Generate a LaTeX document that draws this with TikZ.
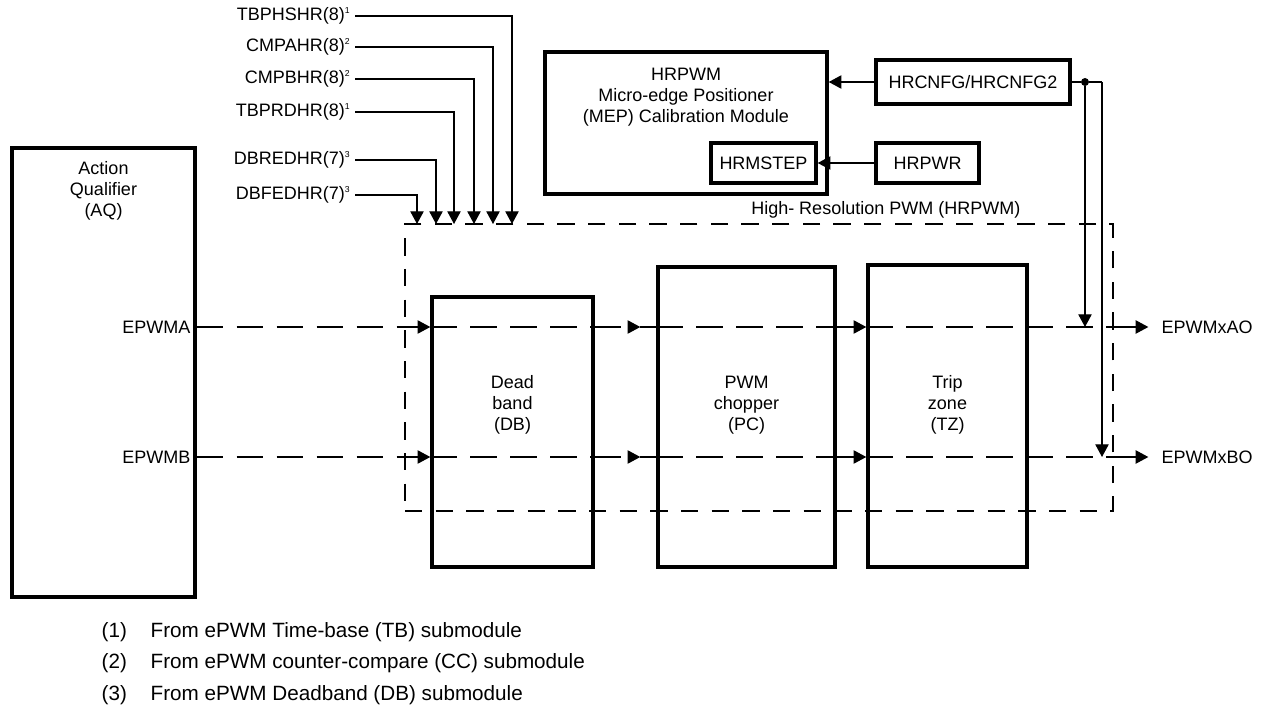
\documentclass[tikz,border=0pt]{standalone}
\usepackage{fontspec}
\setmainfont{Liberation Sans}
\usetikzlibrary{arrows.meta,positioning,calc}

\newcommand{\fnm}[1]{\textsuperscript{\fontsize{6.5}{6.5}\selectfont #1}}

\tikzset{
	ahead/.tip={Triangle[length=9.5pt,width=10pt]},
	blk/.style={draw,line width=2.6pt,inner sep=0pt},
	wire/.style={line width=0.9pt},
	sig/.style={line width=0.9pt,dash pattern=on 20pt off 10pt},
	hrbox/.style={draw,line width=0.9pt,dash pattern=on 13pt off 10pt,inner sep=0pt},
	txt/.style={align=center,font=\fontsize{13.5}{15.75}\selectfont},
	note/.style={anchor=west,font=\fontsize{15.5}{18}\selectfont},
}

\begin{document}
\begin{tikzpicture}[x=0.75pt,y=0.75pt,yscale=-1,xscale=1]
	\useasboundingbox (0,0) rectangle (1265,713);
	
	%Blocks
	\node[blk,minimum width=137.25pt,minimum height=336.75pt] (aq) at (103.5,372.5) {};
	\node[blk,minimum width=120.75pt,minimum height=202.5pt] (db) at (512.5,432) {};
	\node[blk,minimum width=132.75pt,minimum height=225pt] (pc) at (746.5,417) {};
	\node[blk,minimum width=119.25pt,minimum height=226.5pt] (tz) at (947.5,416) {};
	\node[blk,minimum width=211.5pt,minimum height=106.5pt] (mep) at (686,123) {};
	\node[blk,minimum width=78.75pt,minimum height=30pt,txt] (hrm) at (763.5,163) {HRMSTEP};
	\node[blk,minimum width=145.5pt,minimum height=33pt,txt] (cfg) at (973,82) {HRCNFG/HRCNFG2};
	\node[blk,minimum width=77.25pt,minimum height=30pt,txt] (pwr) at (927.5,163) {HRPWR};
	\node[hrbox,minimum width=531pt,minimum height=215.25pt] (hr) at (759,367.5) {};
	
	% Block texts
	\node[txt] (aql) at (103.5,191) {Action\\Qualifier\\(AQ)};
	\node[txt] (dbl) at (512.5,405) {Dead\\band\\(DB)};
	\node[txt] (pcl) at (746.5,405) {PWM\\chopper\\(PC)};
	\node[txt] (tzl) at (947.5,405) {Trip\\zone\\(TZ)};
	\node[txt] (mepl) at (686,97) {HRPWM\\Micro-edge Positioner\\(MEP) Calibration Module};
	\node[txt,anchor=east] (hrl) at (1025,210) {High- Resolution PWM (HRPWM)};
	
	% Signal names
	\node[txt,anchor=east] (epa) at (195,327) {EPWMA};
	\node[txt,anchor=east] (epb) at (195,457) {EPWMB};
	\node[txt,anchor=west] (oa) at (1157,327) {EPWMxAO};
	\node[txt,anchor=west] (ob) at (1157,457) {EPWMxBO};
	
	% Registers into HRPWM
	\foreach \nm/\lb/\yy/\xx in {
		tbphs/{TBPHSHR(8)\fnm{1}}/16/512,
		cmpa/{CMPAHR(8)\fnm{2}}/47/493,
		cmpb/{CMPBHR(8)\fnm{2}}/79/474,
		tbprd/{TBPRDHR(8)\fnm{1}}/112/454,
		dbred/{DBREDHR(7)\fnm{3}}/160/436,
		dbfed/{DBFEDHR(7)\fnm{3}}/195/417}{
		\node[txt,anchor=east] (\nm) at (355,\yy) {\lb};
		\coordinate (\nm-in) at (\xx,224);
		\draw[wire,-{ahead}] (\nm.east) -| (\nm-in);
	}
	
	% Signal paths
	\foreach \r/\o in {epa/oa,epb/ob}{
		\draw[sig,-{ahead}] (aq.east |- \r) -- (db.west |- \r);
		\draw[sig] (db.west |- \r) -- (db.east |- \r);
		\draw[sig,-{ahead}] (db.east |- \r) -- ([xshift=-12pt]pc.west |- \r);
		\draw[wire] ([xshift=-12pt]pc.west |- \r) -- (pc.west |- \r);
		\draw[sig] (pc.west |- \r) -- (pc.east |- \r);
		\draw[sig,-{ahead}] (pc.east |- \r) -- (tz.west |- \r);
		\draw[sig] (tz.west |- \r) -- (hr.east |- \r);
		\draw[wire,-{ahead},shorten >=6.5pt] (hr.east |- \r) -- (\o.west);
	}
	
	% HRCNFG distribution
	\node[circle,fill,inner sep=0pt,minimum size=6pt] (jn) at (1085,82) {};
	\coordinate (cr) at (1102,82);
	\draw[wire] (cfg.east) -- (jn) -- (cr);
	\draw[wire,-{ahead}] (jn) -- (jn |- epa);
	\draw[wire,-{ahead}] (cr) -- (cr |- epb);
	\draw[wire,-{ahead}] (cfg.west) -- (cfg.west -| mep.east);
	\draw[wire,-{ahead}] (pwr.west) -- (hrm.east);
	
	% Notes
	\node[note] (n1) at (97,632) {(1)};
	\node[note] (n2) at (97,663) {(2)};
	\node[note] (n3) at (97,695) {(3)};
	\node[note] (t1) at (146,632) {From ePWM Time-base (TB) submodule};
	\node[note] (t2) at (146,663) {From ePWM counter-compare (CC) submodule};
	\node[note] (t3) at (146,695) {From ePWM Deadband (DB) submodule};
	
\end{tikzpicture}
\end{document}
